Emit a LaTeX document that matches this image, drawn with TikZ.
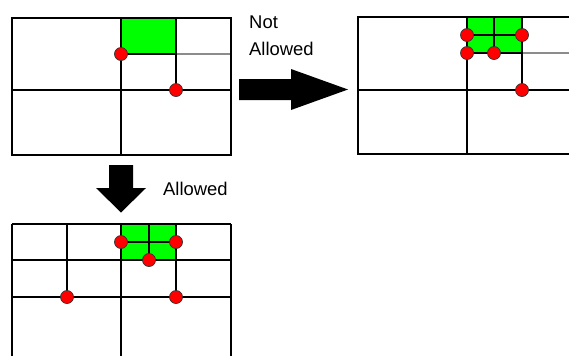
\documentclass[tikz,border=0pt]{standalone}
\usepackage{fontspec}
\setmainfont{Liberation Sans}
\begin{document}
\begin{tikzpicture}[x=1bp,y=-1bp,
  grid/.style={line width=1.6bp,black},
  softline/.style={line width=1.3bp,black!45},
  green/.style={fill=green},
  dot/.style={circle,fill=red,draw=black!80,line width=0.7bp,inner sep=0pt,minimum size=13bp},
  bigarrow/.style={fill=black},
  lbl/.style={anchor=base west,inner sep=0pt,font=\fontsize{18.5}{20}\selectfont}]
\useasboundingbox (0,0) rectangle (569,355);
% ---------- diagram 1 (top-left) ----------
\fill[green] (121,18) rectangle (176,54);
\draw[softline] (176,54) -- (231,54);
\draw[grid] (12,18) rectangle (231,155);
\draw[grid] (121,18) -- (121,155);
\draw[grid] (12,90) -- (231,90);
\draw[grid] (176,18) -- (176,90);
\draw[grid] (121,54) -- (176,54);
\node[dot] (a1) at (121,54) {};
\node[dot] (a2) at (176,90) {};
% ---------- diagram 2 (top-right) ----------
\fill[green] (467,17) rectangle (522,53);
\draw[softline] (522,53) -- (580,53);
\draw[grid] (358,17) rectangle (580,154);
\draw[grid] (467,17) -- (467,154);
\draw[grid] (358,90) -- (580,90);
\draw[grid] (522,17) -- (522,90);
\draw[grid] (467,53) -- (522,53);
\draw[grid] (494,17) -- (494,53);
\draw[grid] (467,35) -- (522,35);
\node[dot] (b1) at (467,35) {};
\node[dot] (b2) at (522,35) {};
\node[dot] (b3) at (467,53) {};
\node[dot] (b4) at (494,53) {};
\node[dot] (b5) at (522,90) {};
% ---------- diagram 3 (bottom-left) ----------
\fill[green] (121,224) rectangle (176,260);
\draw[grid] (12,224) -- (231,224);
\draw[grid] (12,224) -- (12,360);
\draw[grid] (231,224) -- (231,360);
\draw[grid] (121,224) -- (121,360);
\draw[grid] (12,260) -- (231,260);
\draw[grid] (12,297) -- (231,297);
\draw[grid] (67,224) -- (67,297);
\draw[grid] (176,224) -- (176,297);
\draw[grid] (149,224) -- (149,260);
\draw[grid] (121,242) -- (176,242);
\node[dot] (c1) at (121,242) {};
\node[dot] (c2) at (176,242) {};
\node[dot] (c3) at (149,260) {};
\node[dot] (c4) at (67,297) {};
\node[dot] (c5) at (176,297) {};
% ---------- arrows ----------
\fill[bigarrow] (239,79) -- (291,79) -- (291,69) -- (348,89.5) -- (291,110) -- (291,100) -- (239,100) -- cycle;
\fill[bigarrow] (109,165) -- (133,165) -- (133,188) -- (146,188) -- (121,212.5) -- (96,188) -- (109,188) -- cycle;
% ---------- labels ----------
\node[lbl] (t1) at (249,28) {Not};
\node[lbl] (t2) at (249,55) {Allowed};
\node[lbl] (t3) at (163,195) {Allowed};
\end{tikzpicture}
\end{document}
